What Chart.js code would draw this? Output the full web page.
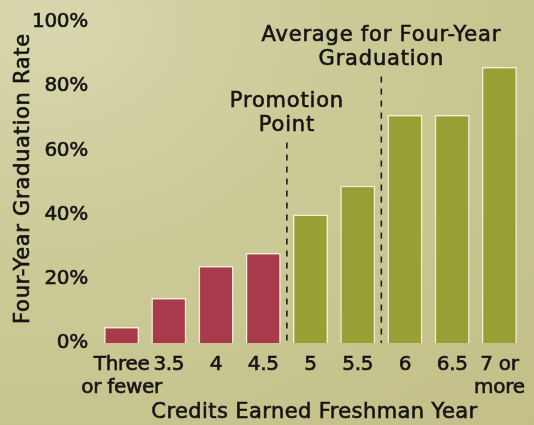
<!DOCTYPE html>
<html>
<head>
<meta charset="utf-8">
<script src="https://cdn.jsdelivr.net/npm/chart.js@4.4.1/dist/chart.umd.min.js"></script>
<style>
  html, body { margin: 0; padding: 0; }
  body {
    width: 534px; height: 425px; overflow: hidden;
    background: radial-gradient(ellipse at 10% 5%, #d8d6ad 0%, #cbc995 45%, #c2bf87 100%);
  }
  #wrap { position: relative; width: 534px; height: 425px; }
</style>
</head>
<body>
<div id="wrap"><canvas id="chart" width="534" height="425"></canvas></div>
<script>
// Credits earned freshman year vs four-year graduation rate (%)
const categories = [["Three", "or fewer"], "3.5", "4", "4.5", "5", "5.5", "6", "6.5", ["7 or", "more"]];
const gradRates = [5, 14, 24, 28, 40, 49, 71, 71, 86];
const yTicks = [0, 20, 40, 60, 80, 100];
const belowPromotion = 4; // first four groups are under the promotion point

const xTitle = "Credits Earned Freshman Year";
const yTitle = "Four-Year Graduation Rate";

// dashed dividers: drawn after category index, reaching up to a % value
const dividers = [
  { afterIndex: 3, reach: 62.5, text: ["Promotion", "Point"] },
  { afterIndex: 5, reach: 83, text: ["Average for Four-Year", "Graduation"] }
];

const FONT = "'DejaVu Sans', sans-serif";
const TICK_SIZE = 20;
const TITLE_SIZE = 21;
const INK = "#141414";
const RED = "#a83a4b";
const GREEN = "#96a034";
const EMBOLDEN = 0.6; // thin stroke round the glyphs, the original face is heavier

// Chart.js has no letter-spacing option, so set it on the context (used by tick labels)
const spacingPlugin = {
  id: "spacing",
  beforeUpdate(chart) { chart.ctx.letterSpacing = "-0.3px"; },
  beforeDraw(chart) { chart.ctx.letterSpacing = "-0.3px"; }
};

function boldText(ctx, t, x, y) {
  ctx.strokeText(t, x, y);
  ctx.fillText(t, x, y);
}

// axis titles + dashed dividers, drawn by hand so they can get wider tracking
const textPlugin = {
  id: "annotations",
  afterDatasetsDraw(chart) {
    const { ctx, chartArea, scales: { x, y } } = chart;
    ctx.save();
    ctx.fillStyle = INK;
    ctx.font = TITLE_SIZE + "px " + FONT;
    ctx.textAlign = "center";
    ctx.textBaseline = "middle";

    ctx.letterSpacing = "0.4px";
    ctx.strokeStyle = INK;
    ctx.lineWidth = EMBOLDEN;
    boldText(ctx, xTitle, (chartArea.left + chartArea.right) / 2 + 4, 413);
    ctx.save();
    ctx.translate(24, (chartArea.top + chartArea.bottom) / 2 - 4);
    ctx.rotate(-Math.PI / 2);
    ctx.letterSpacing = "0.7px";
    boldText(ctx, yTitle, 0, 0);
    ctx.restore();

    ctx.letterSpacing = "0.8px";
    dividers.forEach(d => {
      const px = (x.getPixelForTick(d.afterIndex) + x.getPixelForTick(d.afterIndex + 1)) / 2;
      const top = y.getPixelForValue(d.reach);
      const bottom = y.getPixelForValue(0);
      ctx.lineWidth = 1.5;
      ctx.setLineDash([6, 6]);
      ctx.beginPath();
      ctx.moveTo(px, top);
      ctx.lineTo(px, bottom);
      ctx.stroke();
      ctx.setLineDash([]);
      ctx.lineWidth = EMBOLDEN;
      const n = d.text.length;
      d.text.forEach((t, i) => {
        boldText(ctx, t, px, top - 17 - (n - 1 - i) * 24);
      });
    });
    ctx.restore();
  }
};

new Chart(document.getElementById("chart"), {
  type: "bar",
  data: {
    labels: categories,
    datasets: [{
      data: gradRates,
      backgroundColor: gradRates.map((v, i) => i < belowPromotion ? RED : GREEN),
      borderColor: "rgba(245,244,225,0.9)",
      borderWidth: 1.5,
      barPercentage: 0.74,
      categoryPercentage: 1
    }]
  },
  options: {
    responsive: false,
    animation: false,
    layout: { padding: { top: 22, right: 11, left: 0, bottom: 0 } },
    plugins: {
      legend: { display: false },
      tooltip: { enabled: false }
    },
    scales: {
      x: {
        grid: { display: false },
        border: { display: false },
        ticks: {
          color: INK,
          font: { family: FONT, size: TICK_SIZE, lineHeight: 1.15 },
          textStrokeColor: INK,
          textStrokeWidth: EMBOLDEN,
          padding: 2,
          maxRotation: 0,
          autoSkip: false
        },
        afterFit(scale) { scale.height = 82; }
      },
      y: {
        min: 0,
        max: 100,
        grid: { display: false },
        border: { display: false },
        afterBuildTicks(scale) { scale.ticks = yTicks.map(v => ({ value: v })); },
        ticks: {
          color: INK,
          font: { family: FONT, size: TICK_SIZE },
          textStrokeColor: INK,
          textStrokeWidth: EMBOLDEN,
          padding: 2,
          callback: v => v + "%"
        },
        afterFit(scale) { scale.width = 98; }
      }
    }
  },
  plugins: [spacingPlugin, textPlugin]
});
</script>
</body>
</html>
